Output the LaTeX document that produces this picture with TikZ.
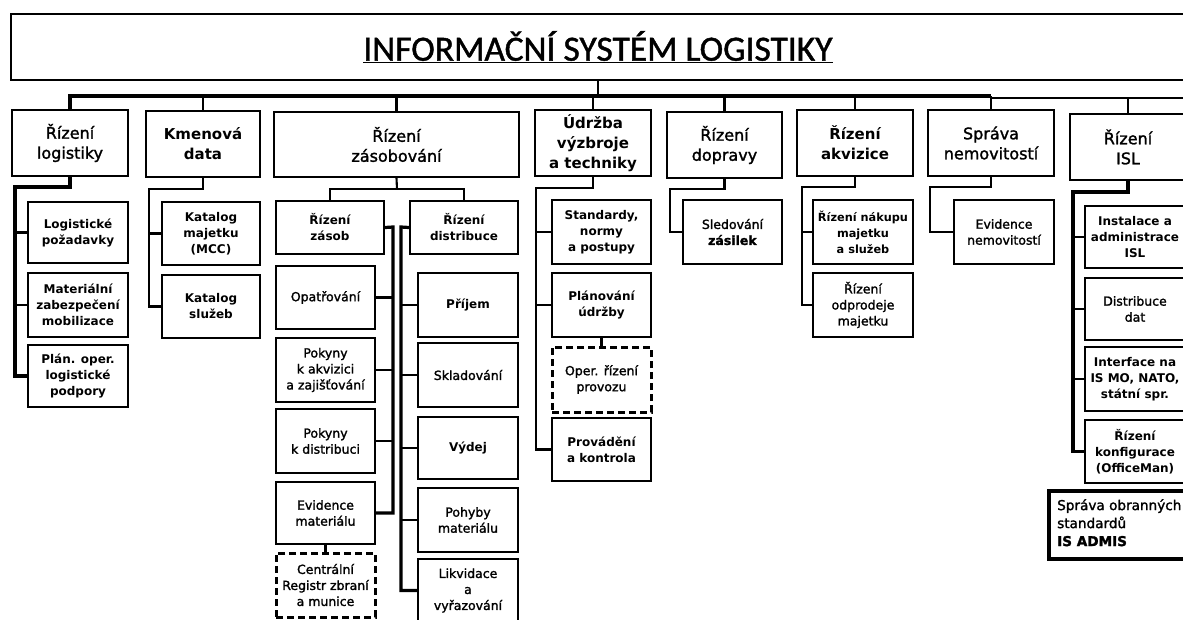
\documentclass[tikz,border=0pt]{standalone}
\usepackage{fontspec}
\setmainfont{DejaVu Sans}
\newfontfamily\medfont{DejaVu Sans}[FakeBold=1.6]
\newfontfamily\titlefont{Carlito}[FakeBold=1.2]
\begin{document}
\begin{tikzpicture}[x=1pt,y=-1pt,line join=miter,
  box/.style={draw,line width=2.1pt,inner sep=0pt,align=center,font=\medfont\fontsize{12.5}{16}\selectfont},
  bbox/.style={box,font=\fontsize{12}{16}\bfseries\selectfont},
  top/.style={box,font=\medfont\fontsize{16}{20}\selectfont},
  btop/.style={box,font=\fontsize{15}{20}\bfseries\selectfont},
  dbox/.style={box,dash pattern=on 7pt off 4pt,line width=3pt},
  conn/.style={line width=2.1pt},
  trunk/.style={line width=3.2pt}]
\newcommand{\bx}[7][box]{\node[#1,minimum width={#5pt-#3pt},minimum height={#6pt-#4pt}] (#2) at ({(#3+#5)/2},{(#4+#6)/2}) {#7};}
\useasboundingbox (0,0) rectangle (1183,619);
\clip (0,0) rectangle (1183,619);
\fill[white] (0,0) rectangle (1183,619);
% title
\node[draw,line width=2pt,inner sep=0pt,minimum width=1174pt,minimum height=66pt,font=\titlefont\fontsize{35.5}{40}\selectfont] (T) at (598,47) {\underline{INFORMAČNÍ SYSTÉM LOGISTIKY}};
% level 1
\bx[top]{RL}{12}{110}{128}{176}{Řízení\\logistiky}
\bx[btop]{KD}{146}{111}{260}{177}{Kmenová\\data}
\bx[top]{RZ}{274}{112}{519}{177}{Řízení\\zásobování}
\bx[btop]{UD}{535}{110}{651}{176}{Údržba\\výzbroje\\a techniky}
\bx[top]{RD}{667}{112}{782}{178}{Řízení\\dopravy}
\bx[btop]{RA}{797}{110}{913}{176}{Řízení\\akvizice}
\bx[top]{SN}{928}{110}{1054}{176}{Správa\\nemovitostí}
\bx[top]{RI}{1070}{114}{1186}{180}{Řízení\\ISL}
% bus
\coordinate (busL) at (70,96);
\coordinate (busR) at (1190,98);
\draw[conn] (T.south) -- (T.south |- busL);
\draw[trunk] (SN.north |- busL) -- (busL) -- (RL.north);
\draw[conn] (SN.north |- busR) -- (busR);
\foreach \n in {KD,RZ,UD,RD,RA,SN} \draw[conn] (\n.north |- busL) -- (\n.north);
\draw[conn] (RI.north |- busR) -- (RI.north);
% Rizeni logistiky
\bx[bbox]{RL1}{28}{202}{128}{263}{Logistické\\požadavky}
\bx[bbox]{RL2}{28}{273}{128}{337}{Materiální\\zabezpečení\\mobilizace}
\bx[bbox]{RL3}{28}{345}{128}{407}{Plán. oper.\\logistické\\podpory}
\coordinate (RLe) at (15,187);
\draw[trunk] (RL.south) |- (RLe) |- (RL3.west);
\foreach \n in {RL1,RL2} \draw[conn] (RLe |- \n.west) -- (\n.west);
% Kmenova data
\bx[bbox]{KD1}{162}{202}{260}{265}{Katalog\\majetku\\(MCC)}
\bx[bbox]{KD2}{162}{275}{260}{338}{Katalog\\služeb}
\coordinate (KDe) at (149,189);
\draw[conn] (KD.south) |- (KDe) |- (KD2.west);
\draw[conn] (KDe |- KD1.west) -- (KD1.west);
% Rizeni zasobovani
\bx[bbox]{RZ1}{276}{201}{384}{254}{Řízení\\zásob}
\bx[bbox]{RZ2}{410}{201}{518}{254}{Řízení\\distribuce}
\coordinate (RZe) at (397,189);
\draw[conn] (RZ.south) -- (RZe);
\draw[conn] (RZ1.north) |- (RZe) -| (RZ2.north);
\bx{RZ1a}{276}{266}{375}{329}{Opatřování}
\bx{RZ1b}{276}{338}{375}{402}{Pokyny\\k akvizici\\a zajišťování}
\bx{RZ1c}{276}{409}{375}{473}{Pokyny\\k distribuci}
\bx{RZ1d}{276}{482}{375}{544}{Evidence\\materiálu}
\bx[dbox]{RZ1e}{276}{553}{375}{617}{Centrální\\Registr zbraní\\a munice}
\coordinate (RZ1t) at (393,227);
\draw[trunk] (RZ1.east) -- (RZ1t) |- (RZ1d.east);
\foreach \n in {RZ1a,RZ1b,RZ1c} \draw[conn] (RZ1t |- \n.east) -- (\n.east);
\draw[conn] (RZ1d.south) -- (RZ1e.north);
\bx[bbox]{RZ2a}{418}{273}{518}{337}{Příjem}
\bx{RZ2b}{418}{343}{518}{407}{Skladování}
\bx[bbox]{RZ2c}{418}{417}{518}{479}{Výdej}
\bx{RZ2d}{418}{488}{518}{552}{Pohyby\\materiálu}
\bx{RZ2e}{418}{559}{518}{622}{Likvidace\\a\\vyřazování}
\coordinate (RZ2t) at (401,227);
\draw[trunk] (RZ2.west) -- (RZ2t) |- (RZ2e.west);
\foreach \n in {RZ2a,RZ2b,RZ2c,RZ2d} \draw[conn] (RZ2t |- \n.west) -- (\n.west);
% Udrzba
\bx[bbox]{UD1}{552}{200}{651}{264}{Standardy,\\normy\\a postupy}
\bx[bbox]{UD2}{552}{273}{651}{337}{Plánování\\údržby}
\bx[dbox]{UD3}{552}{347}{651}{412}{Oper. řízení\\provozu}
\bx[bbox]{UD4}{552}{418}{651}{481}{Provádění\\a kontrola}
\coordinate (UDe) at (536,188);
\draw[conn] (UD.south) |- (UDe) |- (UD4.west);
\foreach \n in {UD1,UD2} \draw[conn] (UDe |- \n.west) -- (\n.west);
\draw[conn] (UD2.south) -- (UD3.north);
% Rizeni dopravy
\bx{RD1}{683}{200}{782}{264}{Sledování\\\textbf{zásilek}}
\coordinate (RDe) at (670,189);
\draw[conn] (RD.south) |- (RDe) |- (RD1.west);
% Rizeni akvizice
\bx[bbox,font=\fontsize{11.3}{16}\bfseries\selectfont]{RA1}{813}{200}{913}{264}{Řízení nákupu\\majetku\\a služeb}
\bx{RA2}{813}{273}{913}{337}{Řízení\\odprodeje\\majetku}
\coordinate (RAe) at (802,187);
\draw[conn] (RA.south) |- (RAe) |- (RA2.west);
\draw[conn] (RAe |- RA1.west) -- (RA1.west);
% Sprava nemovitosti
\bx{SN1}{954}{200}{1054}{264}{Evidence\\nemovitostí}
\coordinate (SNe) at (930,187);
\draw[conn] (SN.south) |- (SNe) |- (SN1.west);
% Rizeni ISL
\bx[bbox]{RI1}{1085}{206}{1185}{268}{Instalace a\\administrace\\ISL}
\bx{RI2}{1085}{278}{1185}{340}{Distribuce\\dat}
\bx[bbox]{RI3}{1085}{347}{1185}{411}{Interface na\\IS MO, NATO,\\státní spr.}
\bx[bbox]{RI4}{1085}{420}{1185}{483}{Řízení\\konfigurace\\(OfficeMan)}
\coordinate (RIe) at (1073,192);
\draw[trunk] (RI.south) |- (RIe) |- (RI4.west);
\foreach \n in {RI1,RI2,RI3} \draw[conn] (RIe |- \n.west) -- (\n.west);
% standalone box
\node[draw,line width=3.8pt,inner sep=0pt,minimum width=150pt,minimum height=68pt] (SOS) at (1124,525) {};
\node[anchor=north west,inner sep=0pt,align=left,font=\medfont\fontsize{13.6}{18}\selectfont] (SOSt) at (1057,499) {Správa obranných\\standardů\\\textbf{IS ADMIS}};
\end{tikzpicture}
\end{document}
